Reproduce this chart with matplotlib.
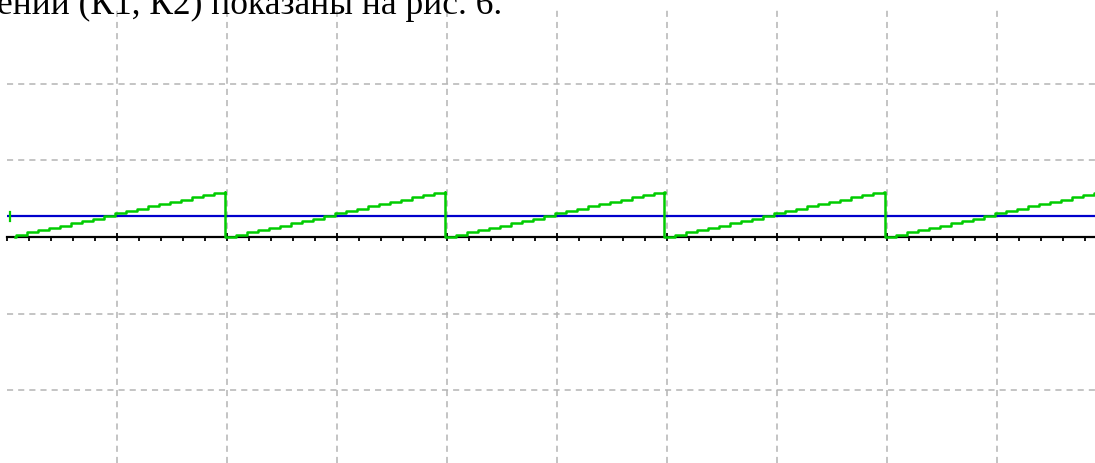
import numpy as np
import matplotlib
matplotlib.use('Agg')
from matplotlib import pyplot as plt
from matplotlib.ticker import MultipleLocator, FixedLocator, NullFormatter

# oscilloscope trace: stepped sawtooth (green) and a dc level (blue)
# units are screen divisions
ramp_levels = [0.0, 0.03, 0.06, 0.09, 0.12, 0.15, 0.18, 0.21, 0.24, 0.27,
               0.31, 0.34, 0.37, 0.40, 0.43, 0.46, 0.49, 0.52, 0.55, 0.57, 0.59]
reset_times = [-0.02, 1.98, 3.98, 5.97, 7.98]
step_dt = 0.1
trace_start = 0.07
blue_level = 0.27
caption = 'ений (К1, К2) показаны на рис. 6.'

W, H = 1095, 463
fig = plt.figure(figsize=(W / 100, H / 100), dpi=100)
left_px, top_px = 7, 7.5
ax = fig.add_axes([left_px / W, 0, 1 - left_px / W, 1 - top_px / H])
div_x, div_y = 110, 76.5
ax.set_xlim(0, (W - left_px) / div_x)
ax.set_ylim(-(H - 237) / div_y, (237 - top_px) / div_y)

# grid
for s in ['top', 'right', 'left']:
    ax.spines[s].set_visible(False)
ax.spines['bottom'].set_position(('data', 0))
ax.spines['bottom'].set_linewidth(1.6)
ax.spines['bottom'].set_zorder(3)
ax.xaxis.set_major_locator(FixedLocator(range(1, 10)))
ax.xaxis.set_minor_locator(MultipleLocator(0.2))
ax.xaxis.set_major_formatter(NullFormatter())
ax.yaxis.set_major_locator(FixedLocator([-2, -1, 1, 2]))
ax.tick_params(axis='x', which='major', direction='inout', length=6, width=1.3)
ax.tick_params(axis='x', which='minor', direction='out', length=3, width=1.3)
ax.tick_params(axis='y', left=False, labelleft=False)
ax.grid(True, which='major', color='#b4b4b4', lw=1.1, linestyle=(0, (4, 3.3)))

# blue level
ax.axhline(blue_level, color='#0000cc', lw=1.6, zorder=4)

# green sawtooth
xs, ys = [], []
for i, t0 in enumerate(reset_times):
    for j, lev in enumerate(ramp_levels):
        t = t0 + j * step_dt
        if t + step_dt <= trace_start:
            continue
        xs.append(max(t, trace_start))
        ys.append(lev)
    t_end = reset_times[i + 1] if i + 1 < len(reset_times) else t0 + 2
    xs.append(t_end)
    ys.append(ramp_levels[-1])
ax.plot(xs, ys, drawstyle='steps-post', color='#00cc00', lw=1.8, zorder=5)
ax.plot([0.03, 0.03], [blue_level - 0.06, blue_level + 0.06], color='#00cc00', lw=1.6, zorder=6)

fig.text(-3 / W, 1 - 14 / H, caption, family='Liberation Serif', fontsize=25.5,
         ha='left', va='baseline')

fig.savefig('out.png', dpi=100, facecolor='white')
